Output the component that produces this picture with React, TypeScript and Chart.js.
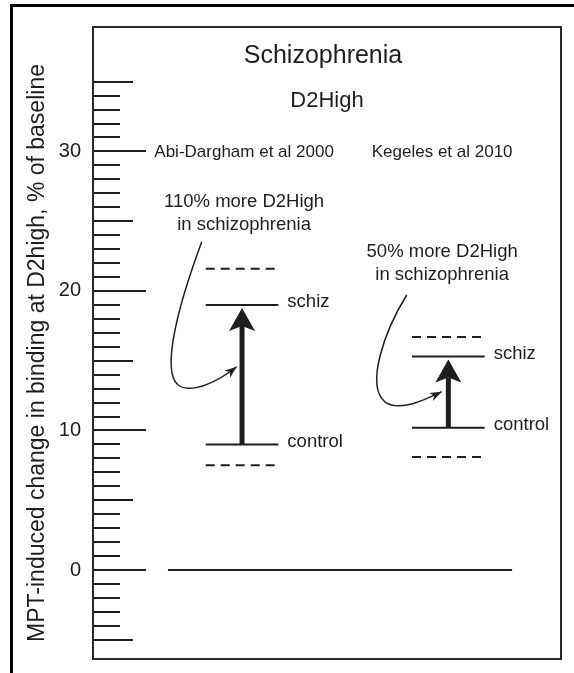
import { useEffect, useRef } from "react";
import { Chart, registerables } from "chart.js";

Chart.register(...registerables);

// ---------- data ----------
const studies = ["Abi-Dargham et al 2000", "Kegeles et al 2010"];
const studyPositions = [1, 2];
const controlValues = [9.0, 10.2];
const schizValues = [19.0, 15.3];
const upperBoundValues = [21.6, 16.7];
const lowerBoundValues = [7.5, 8.1];
const increaseNotes = ["110% more D2High", "50% more D2High"];
const noteSecondLine = "in schizophrenia";
const groupLabels = ["schiz", "control"];
const studyLabelLevel = 30;
const baselineLevel = 0;
const yTickLabels = [0, 10, 20, 30];
const chartTitle = "Schizophrenia";
const chartSubtitle = "D2High";
const yAxisTitle = "MPT-induced change in binding at D2high, % of baseline";

// ---------- layout ----------
const X_MIN = 0.2777;
const X_MAX = 2.546;
const Y_MIN = -6.38;
const Y_MAX = 38.92;
const HALF_WIDTH = 0.176;
const BASELINE_FROM = 0.641;
const BASELINE_TO = 2.309;
const NOTE_Y = [26.4, 22.8];
const TEXT_DX = [0.01, -0.03];
const INK = "#1e1e1e";
const FONT = "'Liberation Sans', Arial, Helvetica, sans-serif";

// curved pointer: [dx, y] pairs: P0, C1, C2, P1, C3, C4, P2
const CURVES = [
  [[-0.195, 23.53], [-0.3, 19.35], [-0.397, 14.34], [-0.31, 13.26], [-0.242, 12.54], [-0.107, 13.62], [-0.026, 14.57]],
  [[-0.2017, 19.71], [-0.307, 17.2], [-0.404, 13.26], [-0.307, 12.04], [-0.234, 11.33], [-0.113, 12.19], [-0.032, 12.78]],
];

function segment(pos: number, value: number, dashed: boolean) {
  return {
    data: [
      { x: pos - HALF_WIDTH, y: value },
      { x: pos + HALF_WIDTH, y: value },
    ],
    borderColor: INK,
    borderWidth: 2,
    borderDash: dashed ? [9, 6] : [],
    pointRadius: 0,
    fill: false,
  };
}

const decorPlugin = {
  id: "decor",
  afterDatasetsDraw(chart: any) {
    const { ctx, chartArea: ca, scales } = chart;
    const xs = scales.x;
    const ys = scales.y;
    ctx.save();

    // inward ticks on the y axis
    ctx.strokeStyle = INK;
    ctx.lineWidth = 2;
    ys.ticks.forEach((t: any) => {
      const v = t.value;
      if (!Number.isInteger(v) || v < -5 || v > 35) return;
      const len = v % 10 === 0 ? 53 : v % 5 === 0 ? 40 : 27;
      const py = Math.round(ys.getPixelForValue(v));
      ctx.beginPath();
      ctx.moveTo(ca.left, py);
      ctx.lineTo(ca.left + len, py);
      ctx.stroke();
    });

    // y axis title
    ctx.save();
    ctx.fillStyle = INK;
    ctx.font = `23px ${FONT}`;
    ctx.textAlign = "center";
    ctx.textBaseline = "middle";
    ctx.translate(38, (ca.top + ca.bottom) / 2 + 10);
    ctx.rotate(-Math.PI / 2);
    ctx.fillText(yAxisTitle, 0, 0);
    ctx.restore();

    // titles
    ctx.fillStyle = INK;
    ctx.textAlign = "center";
    ctx.textBaseline = "alphabetic";
    const cx = (ca.left + ca.right) / 2;
    ctx.font = `25px ${FONT}`;
    ctx.fillText(chartTitle, cx - 4, ca.top + 36);
    ctx.font = `22px ${FONT}`;
    ctx.fillText(chartSubtitle, cx, ca.top + 80);

    studyPositions.forEach((pos, i) => {
      const px = xs.getPixelForValue(pos);
      const tx = xs.getPixelForValue(pos + TEXT_DX[i]);
      const right = xs.getPixelForValue(pos + HALF_WIDTH);

      // study label
      ctx.font = `17px ${FONT}`;
      ctx.textAlign = "center";
      ctx.textBaseline = "middle";
      ctx.fillText(studies[i], tx, ys.getPixelForValue(studyLabelLevel) + 1);

      // note
      ctx.font = `18.5px ${FONT}`;
      const ny = ys.getPixelForValue(NOTE_Y[i]);
      ctx.fillText(increaseNotes[i], tx, ny);
      ctx.fillText(noteSecondLine, tx, ny + 23);

      // group labels
      ctx.textAlign = "left";
      ctx.font = `18.5px ${FONT}`;
      ctx.fillText(groupLabels[0], right + 9, ys.getPixelForValue(schizValues[i]) - 3);
      ctx.fillText(groupLabels[1], right + 9, ys.getPixelForValue(controlValues[i]) - 3);

      // thick arrow control -> schiz
      const yBase = ys.getPixelForValue(controlValues[i]);
      const yTip = ys.getPixelForValue(schizValues[i]) + 3;
      const headLen = 23;
      const headHalf = 13;
      const notch = 5;
      ctx.strokeStyle = INK;
      ctx.lineWidth = 5;
      ctx.beginPath();
      ctx.moveTo(px, yBase);
      ctx.lineTo(px, yTip + headLen - notch);
      ctx.stroke();
      ctx.beginPath();
      ctx.moveTo(px, yTip);
      ctx.lineTo(px + headHalf, yTip + headLen);
      ctx.lineTo(px, yTip + headLen - notch);
      ctx.lineTo(px - headHalf, yTip + headLen);
      ctx.closePath();
      ctx.fill();

      // curved pointer
      const pts = CURVES[i].map(([dx, v]) => [xs.getPixelForValue(pos + dx), ys.getPixelForValue(v)]);
      ctx.lineWidth = 1.5;
      ctx.beginPath();
      ctx.moveTo(pts[0][0], pts[0][1]);
      ctx.bezierCurveTo(pts[1][0], pts[1][1], pts[2][0], pts[2][1], pts[3][0], pts[3][1]);
      ctx.bezierCurveTo(pts[4][0], pts[4][1], pts[5][0], pts[5][1], pts[6][0], pts[6][1]);
      ctx.stroke();
      const [ex, ey] = pts[6];
      const [bx, by] = pts[5];
      const ang = Math.atan2(ey - by, ex - bx);
      const al = 12;
      const aw = 4.5;
      ctx.beginPath();
      ctx.moveTo(ex, ey);
      ctx.lineTo(ex - al * Math.cos(ang) + aw * Math.sin(ang), ey - al * Math.sin(ang) - aw * Math.cos(ang));
      ctx.lineTo(ex - al * 0.7 * Math.cos(ang), ey - al * 0.7 * Math.sin(ang));
      ctx.lineTo(ex - al * Math.cos(ang) - aw * Math.sin(ang), ey - al * Math.sin(ang) + aw * Math.cos(ang));
      ctx.closePath();
      ctx.fill();
    });

    // plot box
    ctx.strokeStyle = "#2a2a2a";
    ctx.lineWidth = 2;
    ctx.strokeRect(ca.left, ca.top, ca.right - ca.left, ca.bottom - ca.top);
    ctx.restore();
  },
};

export default function App() {
  const ref = useRef<HTMLCanvasElement | null>(null);

  useEffect(() => {
    if (!ref.current) return;
    const datasets: any[] = [];
    studyPositions.forEach((pos, i) => {
      datasets.push(segment(pos, upperBoundValues[i], true));
      datasets.push(segment(pos, schizValues[i], false));
      datasets.push(segment(pos, controlValues[i], false));
      datasets.push(segment(pos, lowerBoundValues[i], true));
    });
    datasets.push({
      data: [
        { x: BASELINE_FROM, y: baselineLevel },
        { x: BASELINE_TO, y: baselineLevel },
      ],
      borderColor: INK,
      borderWidth: 2,
      pointRadius: 0,
      fill: false,
    });

    const chart = new Chart(ref.current, {
      type: "line",
      data: { datasets },
      plugins: [decorPlugin],
      options: {
        animation: false,
        responsive: false,
        events: [],
        layout: { padding: { left: 0, top: 27, right: 13, bottom: 14 } },
        plugins: { legend: { display: false }, tooltip: { enabled: false }, title: { display: false } },
        scales: {
          x: { type: "linear", min: X_MIN, max: X_MAX, display: false },
          y: {
            type: "linear",
            min: Y_MIN,
            max: Y_MAX,
            grid: { display: false, drawTicks: false },
            border: { display: false },
            afterFit: (scale: any) => {
              scale.width = 93;
              scale.paddingTop = 0;
              scale.paddingBottom = 0;
            },
            ticks: {
              stepSize: 1,
              autoSkip: false,
              padding: 12,
              color: INK,
              font: { family: FONT, size: 20 },
              callback: (v: any) => (yTickLabels.includes(Number(v)) ? String(v) : ""),
            },
          },
        },
      },
    });
    return () => chart.destroy();
  }, []);

  return (
    <div style={{ position: "fixed", left: 0, top: 0, width: 574, height: 673, background: "#fff" }}>
      <div
        style={{
          position: "absolute",
          left: 10,
          top: 4,
          width: 574,
          height: 680,
          borderTop: "3px solid #000",
          borderLeft: "3px solid #000",
        }}
      />
      <canvas ref={ref} width={574} height={673} style={{ position: "absolute", left: 0, top: 0 }} />
    </div>
  );
}
